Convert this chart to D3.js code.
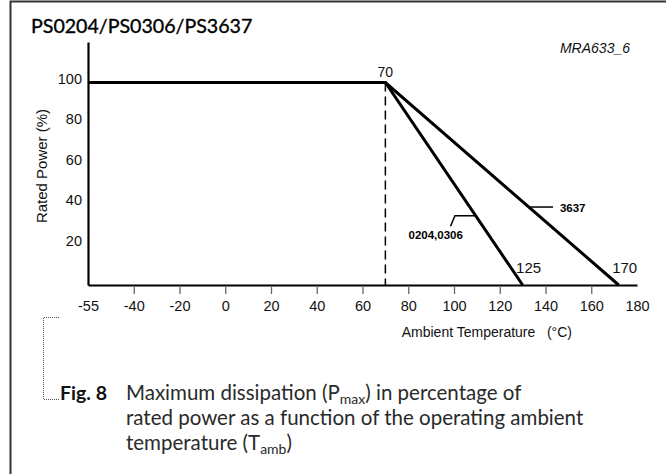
<!DOCTYPE html>
<html lang="en">
	<head>
		<meta charset="utf-8">
		<title>PS0204/PS0306/PS3637 derating</title>
		<script type="text/javascript" src="https://d3js.org/d3.v7.min.js"></script>
		<style>
			body { margin: 0; background: #fff; }
			.tick text { font-family: "Liberation Sans", Arial, sans-serif; font-size: 14.5px; fill: #111; }
			.label { font-family: "Liberation Sans", Arial, sans-serif; font-size: 14px; fill: #111; }
			.cap { font-family: Lato, "Open Sans", sans-serif; fill: #2a2a2a; }
		</style>
	</head>
	<body>
		<script type="text/javascript">

			// chart data
			var xTicks = [-55, -40, -20, 0, 20, 40, 60, 80, 100, 120, 140, 160, 180];
			var yTicks = [20, 40, 60, 80, 100];
			var series0204 = [{t: -55, p: 100}, {t: 70, p: 100}, {t: 130, p: 0}];
			var series3637 = [{t: -55, p: 100}, {t: 70, p: 100}, {t: 172, p: 0}];
			var kneeTemp = 70;
			var endLabels = [{text: "125", t: 130, p: 0}, {text: "170", t: 172, p: 0}];

			var W = 666, H = 474;
			var plot = {left: 88, right: 637, top: 42, bottom: 285};

			// first interval (-55 .. -40) is drawn shorter than the rest, as in the figure
			var unit = (plot.right - plot.left) / 240;
			var xScale = d3.scaleLinear()
				.domain([-55, -40, 180])
				.range([plot.left, plot.right - 220 * unit, plot.right]);

			var yScale = d3.scaleLinear()
				.domain([0, 120])
				.range([plot.bottom, plot.top]);

			var svg = d3.select("body")
				.append("svg")
				.attr("width", W)
				.attr("height", H);

			// page frame (left and top edge only)
			svg.append("path")
				.attr("d", "M10.5," + H + "V1.5H" + W)
				.attr("fill", "none")
				.attr("stroke", "#333")
				.attr("stroke-width", 2);

			// title
			svg.append("text")
				.attr("class", "cap")
				.attr("x", 31)
				.attr("y", 33)
				.style("font-size", "19.6px")
				.style("fill", "#000")
				.style("stroke", "#000")
				.style("stroke-width", 0.35)
				.text("PS0204/PS0306/PS3637");

			svg.append("text")
				.attr("class", "label")
				.attr("x", 630)
				.attr("y", 53)
				.attr("text-anchor", "end")
				.style("font-style", "italic")
				.text("MRA633_6");

			// ---------------- axes ----------------
			var xAxis = d3.axisBottom(xScale)
				.tickValues(xTicks)
				.tickFormat(function(d) { return String(d); })
				.tickSizeInner(9)
				.tickSizeOuter(0)
				.tickPadding(7);

			var gx = svg.append("g")
				.attr("transform", "translate(0," + plot.bottom + ")")
				.call(xAxis);
			gx.select(".domain").attr("stroke", "#000").attr("stroke-width", 2.2);
			gx.selectAll(".tick line")
				.attr("y1", 2)
				.attr("stroke", "#666")
				.attr("stroke-width", 1.3)
				.style("display", function(d) { return (d === -55 || d === 180) ? "none" : null; });

			var yAxis = d3.axisLeft(yScale)
				.tickValues(yTicks)
				.tickSizeInner(0)
				.tickSizeOuter(0)
				.tickPadding(6);

			var gy = svg.append("g")
				.attr("transform", "translate(" + plot.left + ",0)")
				.call(yAxis);
			gy.select(".domain").attr("stroke", "#000").attr("stroke-width", 2.2);
			gy.selectAll(".tick text").attr("y", -4);

			svg.append("text")
				.attr("class", "label")
				.attr("transform", "translate(47," + 166 + ") rotate(-90)")
				.attr("text-anchor", "middle")
				.style("font-size", "15px")
				.text("Rated Power (%)");

			svg.append("text")
				.attr("class", "label")
				.attr("x", 572)
				.attr("y", 337)
				.attr("text-anchor", "end")
				.attr("xml:space", "preserve")
				.text("Ambient Temperature   (\u00B0C)");

			// ---------------- curves ----------------
			var line = d3.line()
				.x(function(d) { return xScale(d.t); })
				.y(function(d) { return yScale(d.p); });

			svg.append("line")
				.attr("x1", xScale(kneeTemp))
				.attr("x2", xScale(kneeTemp))
				.attr("y1", yScale(100))
				.attr("y2", yScale(0))
				.attr("stroke", "#000")
				.attr("stroke-width", 1.5)
				.attr("stroke-dasharray", "9,5");

			svg.selectAll(".curve")
				.data([series0204, series3637])
				.enter().append("path")
				.attr("class", "curve")
				.attr("d", line)
				.attr("fill", "none")
				.attr("stroke", "#000")
				.attr("stroke-width", 3)
				.attr("stroke-linejoin", "miter");

			svg.append("text")
				.attr("class", "label")
				.attr("x", xScale(kneeTemp))
				.attr("y", yScale(100) - 6)
				.attr("text-anchor", "middle")
				.text(kneeTemp);

			svg.selectAll(".endlabel")
				.data(endLabels)
				.enter().append("text")
				.attr("class", "label endlabel")
				.attr("x", function(d) { return xScale(d.t) + 6; })
				.attr("y", yScale(0) - 12)
				.attr("text-anchor", "middle")
				.style("font-size", "15px")
				.text(function(d) { return d.text; });

			// series leaders
			function onLine(s, p) {
				var a = s[1], b = s[2];
				return a.t + (b.t - a.t) * (a.p - p) / (a.p - b.p);
			}
			var p3637 = 38.5;
			svg.append("line")
				.attr("x1", xScale(onLine(series3637, p3637)))
				.attr("x2", xScale(143.3))
				.attr("y1", yScale(p3637))
				.attr("y2", yScale(p3637))
				.attr("stroke", "#000").attr("stroke-width", 1.5);
			svg.append("text")
				.attr("x", xScale(146.3))
				.attr("y", yScale(p3637) + 4.5)
				.style("font-family", "Liberation Sans, Arial, sans-serif")
				.style("font-size", "11.5px")
				.style("font-weight", "bold")
				.text("3637");

			var p0204 = 34.2;
			svg.append("path")
				.attr("d", "M" + xScale(onLine(series0204, p0204)) + "," + yScale(p0204) +
					"H" + xScale(100.4) + "L" + xScale(98.5) + "," + yScale(29))
				.attr("fill", "none")
				.attr("stroke", "#000").attr("stroke-width", 1.5);
			svg.append("text")
				.attr("x", xScale(92))
				.attr("y", yScale(22.6))
				.attr("text-anchor", "middle")
				.style("font-family", "Liberation Sans, Arial, sans-serif")
				.style("font-size", "11.5px")
				.style("font-weight", "bold")
				.text("0204,0306");

			// ---------------- caption ----------------
			svg.append("path")
				.attr("d", "M59,317.5H43.5V399.5H59")
				.attr("fill", "none")
				.attr("stroke", "#555")
				.attr("stroke-width", 1)
				.attr("stroke-dasharray", "1,1");

			svg.append("text")
				.attr("class", "cap")
				.attr("x", 60)
				.attr("y", 400)
				.style("font-size", "19.5px")
				.style("font-weight", "bold")
				.style("fill", "#111")
				.text("Fig. 8");

			var capLines = [
				[["Maximum dissipation (P", 0], ["max", 1], [") in percentage of", 0]],
				[["rated power as a function of the operating ambient", 0]],
				[["temperature (T", 0], ["amb", 1], [")", 0]]
			];
			capLines.forEach(function(parts, i) {
				var t = svg.append("text")
					.attr("class", "cap")
					.attr("x", 126)
					.attr("y", 400 + i * 25)
					.style("font-size", "20.5px");
				parts.forEach(function(p) {
					t.append("tspan")
						.attr("dy", p[1] ? 3.5 : (p === parts[0] ? null : -3.5))
						.style("font-size", p[1] ? "14px" : null)
						.text(p[0]);
				});
			});

		</script>
	</body>
</html>
